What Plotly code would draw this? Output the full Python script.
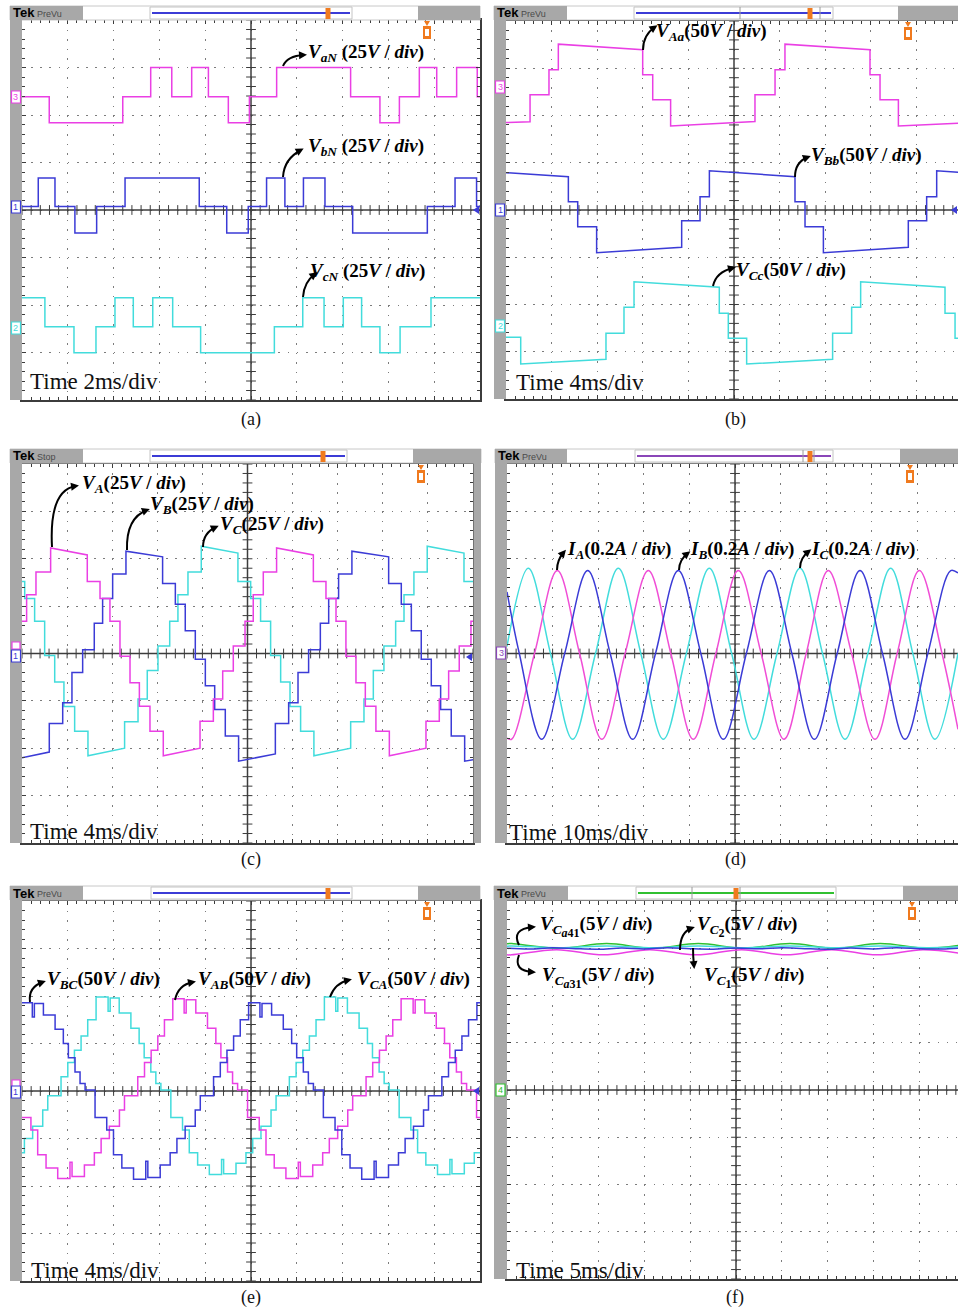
import plotly.graph_objects as go

W, H = 958, 1309
SERIF = "Liberation Serif"
MAGENTA = "#ea3fe4"
PINK = "#f04ed6"
BLUE = "#3b3bd6"
CYAN = "#42dcdc"
GREEN = "#30c030"
PURPLE = "#8a46b8"
ORANGE = "#f07a1e"
BEZEL = "#a8a8a8"
DOT = "#7c7c7c"
FRAME = "#3c3c3c"

# ---------------- (a) phase-to-neutral voltages, 2 ms/div, 25 V/div
A_T_VAN = [0, 1.19, 4.40, 5.62, 6.54, 7.41, 8.14, 9.01, 9.93, 11.12, 14.35, 15.63, 16.48, 17.35, 18.11, 18.98, 19.88, 20]
A_VAN = [0, -13.7, 0, 15.4, 0, 15.4, 0, -13.7, 0, 15.4, 0, -13.7, 0, 15.4, 0, 15.4, 0]
A_T_VBN = [0, 0.71, 1.44, 2.31, 3.26, 4.50, 7.74, 8.94, 9.88, 10.68, 11.48, 12.29, 13.23, 14.44, 17.70, 18.91, 19.85, 20]
A_VBN = [0, 15.0, 0, -13.9, 0, 15.0, 0, -13.9, 0, 15.0, 0, 15.0, 0, -13.9, 0, 15.0, 0]
A_T_VCN = [0, 1.00, 2.27, 3.23, 4.06, 4.86, 5.71, 6.58, 7.80, 11.02, 12.26, 13.19, 14.03, 14.83, 15.63, 16.51, 17.86, 20]
A_VCN = [15.3, 0, -13.7, 0, 15.3, 0, 15.3, 0, -13.7, 0, 15.3, 0, 15.3, 0, -13.7, 0, 15.3]

# ---------------- (b) module voltages, 4 ms/div, 50 V/div  (tuples = start/end of a drooping plateau)
B_T_VAA = [0, 2.11, 3.77, 4.59, 11.99, 12.87, 14.44, 21.84, 23.60, 24.47, 31.93, 32.81, 34.42, 40]
B_VAA = [(-37.5, -36.6), -8.1, 18.3, (45.5, 39.5), 13.0, -13.4, (-41.0, -36.4), -8.1, 18.3, (45.5, 39.5), 13.0, -13.4, (-41.0, -38.0)]
B_T_VBB = [0, 5.47, 6.29, 7.95, 15.41, 17.02, 17.84, 25.35, 26.23, 27.84, 35.29, 36.90, 37.78, 40]
B_VBB = [(39.5, 35.2), 8.8, -17.7, (-45.2, -39.5), -11.3, 14.1, (41.6, 35.2), 8.8, -17.7, (-45.2, -39.5), -11.3, 14.1, (41.6, 39.5)]
B_T_VCC = [0, 1.29, 8.77, 10.35, 11.23, 18.71, 19.50, 21.11, 28.65, 30.32, 31.11, 38.51, 39.39, 40]
B_VCC = [-12.0, (-40.2, -35.2), -7.7, 19.8, (46.9, 41.0), 13.4, -13.0, (-40.2, -35.2), -7.7, 19.8, (46.9, 41.0), 13.4, -13.0]

# ---------------- (c) output phase voltages, 4 ms/div, 25 V/div
C_T_VA = [0, 0.41, 1.24, 2.54, 5.79, 6.92, 7.80, 8.69, 9.58, 10.41, 11.35, 12.53, 15.79, 16.97, 17.80, 18.74,
          19.78, 20.51, 21.40, 22.58, 25.84, 26.96, 27.85, 28.73, 29.62, 30.45, 31.39, 32.58, 35.83, 37.01, 37.84,
          38.78, 39.82, 40.1]
C_VA = [17, 31, 43, (55.7, 52), 38, 29, 17, -1.4, -15.5, -27.8, -41, (-54, -50), -35.7, -24, -9.3, 3.9,
        17, 31, 43, (55.7, 52), 38, 29, 17, -1.4, -15.5, -27.8, -41, (-54, -50), -35.7, -24, -9.3, 3.9, 17]
C_T_VB = [0, 2.42, 3.61, 4.43, 5.38, 6.41, 7.15, 8.04, 9.22, 12.47, 13.60, 14.48, 15.37, 16.26, 17.09, 18.03,
          19.21, 22.47, 23.65, 24.48, 25.42, 26.46, 27.20, 28.08, 29.26, 32.52, 33.64, 34.53, 35.41, 36.30, 37.13,
          38.07, 39.26, 40.1]
C_VB = [(-55, -52), -37, -26, -10, 2, 16, 29, 42, (54, 51), 37, 26, 12, -3, -17, -29.5, -43.6, (-56.8, -53),
        -37, -26, -10, 2, 16, 29, 42, (54, 51), 37, 26, 12, -3, -17, -29.5, -43.6, (-56.8, -56)]
C_T_VC = [0, 0.24, 1.12, 2.01, 2.90, 3.72, 4.67, 5.85, 9.10, 10.29, 11.11, 12.06, 13.10, 13.83, 14.72, 15.90,
          19.15, 20.28, 21.16, 22.05, 22.94, 23.77, 24.71, 25.89, 29.15, 30.33, 31.16, 32.10, 33.14, 33.88, 34.76,
          35.94, 39.20, 40.1]
C_VC = [38, 29, 17, -1, -15, -28, -41, (-54, -50), -36, -24, -9, 4, 17, 31, 43, (56.6, 53), 38, 29, 17, -1,
        -15, -28, -41, (-54, -50), -36, -24, -9, 4, 17, 31, 43, (56.6, 53), 38]

# ---------------- (d) load currents, 10 ms/div, 0.2 A/div (peaks, troughs and zero crossings)
D_T_IA = [0, 1.02, 6.03, 11.04, 15.92, 20.80, 25.90, 30.99, 35.93, 40.86, 45.80, 50.73, 55.74, 60.75, 65.61,
          70.46, 75.58, 80.70, 85.56, 90.42, 95.40, 98.9]
D_IA = [-0.357, -0.362, 0, 0.350, 0, -0.362, 0, 0.350, 0, -0.362, 0, 0.350, 0, -0.362, 0, 0.350, 0, -0.362, 0,
        0.350, 0, -0.32]
D_T_IB = [0, 2.70, 7.60, 12.65, 17.70, 22.63, 27.56, 32.57, 37.57, 42.51, 47.44, 52.49, 57.53, 62.47, 67.40,
          72.41, 77.41, 82.35, 87.28, 92.29, 97.30, 98.9]
D_IB = [0.26, 0, -0.362, 0, 0.350, 0, -0.362, 0, 0.350, 0, -0.362, 0, 0.350, 0, -0.362, 0, 0.350, 0, -0.362, 0,
        0.350, 0.34]
D_T_IC = [0, 4.67, 9.54, 14.40, 19.41, 24.41, 29.35, 34.28, 39.33, 44.37, 49.27, 54.17, 59.21, 64.25, 69.19,
          74.12, 79.13, 84.14, 89.00, 93.86, 98.9]
D_IC = [0.03, 0.360, 0, -0.362, 0, 0.360, 0, -0.362, 0, 0.360, 0, -0.362, 0, 0.360, 0, -0.362, 0, 0.360, 0,
        -0.362, 0.0]

# ---------------- (e) line voltages, 4 ms/div, 50 V/div
E_T_VBC = [0, 0.90, 1.08, 1.87, 2.89, 3.61, 4.05, 4.63, 5.07, 5.51, 6.38, 7.40, 7.99, 8.72, 9.74, 10.81, 10.99,
           12.07, 12.94, 13.53, 14.25, 15.13, 15.57, 16.73, 17.32, 17.90, 18.48, 19.06, 19.79, 20.78, 20.96, 21.80,
           22.82, 23.55, 23.99, 24.57, 25.01, 25.45, 26.32, 27.34, 27.93, 28.65, 29.67, 30.75, 30.93, 32.01, 32.88,
           33.46, 34.19, 35.07, 35.50, 36.67, 37.25, 37.84, 38.42, 39.00, 39.73, 40.1]
E_VBC = [93, 78, 92, 80, 65, 50, 35, 20, 8, 1, -28, -41, -67, -81, -93, -74, -91, -78, -65, -50, -37, -20, -5,
         15, 30, 43, 58, 75, 93,
         78, 92, 80, 65, 50, 35, 20, 8, 1, -28, -41, -67, -81, -93, -74, -91, -78, -65, -50, -37, -20, -5,
         15, 30, 43, 58, 75, 93]
E_T_VAB = [0, 0.78, 1.37, 2.10, 3.12, 4.19, 4.37, 5.45, 6.32, 6.91, 7.63, 8.51, 8.95, 10.11, 10.70, 11.28, 11.86,
           12.44, 13.17, 14.16, 14.34, 15.18, 16.20, 16.93, 17.37, 17.95, 18.39, 18.83, 19.70, 20.72, 21.31, 22.03,
           23.05, 24.13, 24.31, 25.39, 26.26, 26.84, 27.57, 28.45, 28.88, 30.05, 30.63, 31.22, 31.80, 32.38, 33.11,
           34.16, 34.34, 35.18, 36.18, 36.90, 37.36, 37.94, 38.38, 38.83, 39.70, 40.1]
E_VAB = [-28, -41, -67, -81, -92, -75, -90, -78, -65, -50, -37, -20, -5, 15, 30, 43, 58, 75, 97, 82, 96, 82, 66,
         50, 35, 20, 8, 1,
         -28, -41, -67, -81, -92, -75, -90, -78, -65, -50, -37, -20, -5, 15, 30, 43, 58, 75, 97, 82, 96, 82, 66,
         50, 35, 20, 8, 1, -28]
E_T_VCA = [0, 0.21, 0.93, 1.81, 2.25, 3.41, 4.00, 4.58, 5.16, 5.74, 6.47, 7.52, 7.70, 8.49, 9.51, 10.23, 10.67,
           11.25, 11.69, 12.13, 13.00, 14.02, 14.61, 15.34, 16.36, 17.43, 17.61, 18.69, 19.56, 20.15, 20.87, 21.75,
           22.19, 23.35, 23.94, 24.52, 25.10, 25.68, 26.41, 27.40, 27.58, 28.42, 29.44, 30.17, 30.61, 31.19, 31.63,
           32.07, 32.94, 33.96, 34.55, 35.27, 36.29, 37.37, 37.55, 38.63, 39.50, 40.1]
E_VCA = [-65, -50, -37, -20, -5, 15, 30, 43, 58, 75, 99, 84, 98, 82, 66, 50, 35, 20, 8, 1, -28, -41, -65, -78,
         -88, -72, -87, -76, -65,
         -50, -37, -20, -5, 15, 30, 43, 58, 75, 99, 84, 98, 82, 66, 50, 35, 20, 8, 1, -28, -41, -65, -78,
         -88, -72, -87, -76, -65]

# ---------------- (f) capacitor voltages, 5 ms/div, 5 V/div (ripple extremes)
F_T_CA41 = [0, 0.51, 5.71, 10.88, 15.91, 20.89, 25.88, 30.90, 35.82, 40.73, 45.83, 49.3]
F_CA41 = [15.48, 15.50, 15.00, 15.50, 15.00, 15.50, 15.00, 15.50, 15.00, 15.50, 15.00, 15.30]
F_T_CA31 = [0, 0.50, 5.42, 10.52, 15.61, 20.70, 25.62, 30.50, 35.45, 40.40, 45.40, 49.3]
F_CA31 = [14.32, 14.30, 14.85, 14.30, 14.85, 14.30, 14.85, 14.30, 14.85, 14.30, 14.85, 14.50]
F_T_C2 = [0, 0.51, 5.71, 10.88, 15.91, 20.89, 25.88, 30.90, 35.82, 40.73, 45.83, 49.3]
F_C2 = [15.22, 15.25, 15.05, 15.25, 15.05, 15.25, 15.05, 15.25, 15.05, 15.25, 15.05, 15.15]
F_T_C1 = [0, 2.5, 5.0, 7.5, 10.0, 12.5, 15.0, 17.5, 20.0, 22.5, 25.0, 27.5, 30.0, 32.5, 35.0, 37.5, 40.0, 42.5,
          45.0, 47.5, 49.3]
F_C1 = [15.0, 14.92, 15.05, 14.95, 14.9, 15.02, 14.93, 15.06, 14.95, 14.9, 15.03, 14.94, 15.05, 14.96, 14.9,
        15.02, 14.93, 15.06, 14.96, 14.92, 15.0]

# ---------------- screen geometry of the six captures (pixels)
GEOM = {
    "a": dict(left=22, right=480, top=20, bottom=400, divw=45.8, tdiv=2, cut=False),
    "b": dict(left=506, right=958, top=21, bottom=399, divw=45.6, tdiv=4, cut=True),
    "c": dict(left=22, right=473, top=464, bottom=843, divw=45.1, tdiv=4, cut=False),
    "d": dict(left=507, right=958, top=464, bottom=843, divw=45.6, tdiv=10, cut=True),
    "e": dict(left=22, right=480, top=901, bottom=1281, divw=45.8, tdiv=4, cut=False),
    "f": dict(left=507, right=958, top=901, bottom=1279, divw=45.8, tdiv=5, cut=True),
}
HEAD = {
    "a": dict(y=(6, 20), gl=(10, 83), box=(150, 352), gr=(418, 480), lc=BLUE, trig=328, mode="PreVu",
              bez=(10, 22), marks=()),
    "b": dict(y=(6, 20), gl=(494, 567), box=(634, 833), gr=(898, 958), lc=BLUE, trig=810, mode="PreVu",
              bez=(494, 506), marks=(740, 820)),
    "c": dict(y=(449, 463), gl=(10, 83), box=(150, 347), gr=(413, 481), lc=BLUE, trig=323, mode="Stop",
              bez=(10, 22), marks=()),
    "d": dict(y=(449, 463), gl=(495, 567), box=(635, 833), gr=(900, 958), lc=PURPLE, trig=810, mode="PreVu",
              bez=(495, 507), marks=(803, 814)),
    "e": dict(y=(886, 900), gl=(10, 83), box=(151, 352), gr=(418, 480), lc=BLUE, trig=328, mode="PreVu",
              bez=(10, 22), marks=()),
    "f": dict(y=(886, 900), gl=(494, 568), box=(636, 836), gr=(903, 958), lc=GREEN, trig=736, mode="PreVu",
              bez=(494, 507), marks=(692, 740)),
}
LEVEL_MARK = {"a": 427, "b": 908, "c": 421, "d": 910, "e": 427, "f": 912}
# ground reference tags on the bezel: (y, number or None, colour)
GROUND_TAGS = {
    "a": [(97, "3", MAGENTA), (207, "1", BLUE), (328, "2", CYAN)],
    "b": [(87, "3", MAGENTA), (210, "1", BLUE), (326, "2", CYAN)],
    "c": [(646, None, MAGENTA), (656, "1", BLUE)],
    "d": [(653, "3", PURPLE)],
    "e": [(1084, None, MAGENTA), (1092, "1", BLUE)],
    "f": [(1090, "4", GREEN)],
}
# small blue pointers at the right end of the centre line
RIGHT_POINTERS = [(480, 210), (958, 210), (473, 657), (480, 1091)]
TIME_TEXT = {"a": ("Time 2ms/div", 28, 381), "b": ("Time 4ms/div", 514, 382), "c": ("Time 4ms/div", 28, 831),
             "d": ("Time 10ms/div", 507, 832), "e": ("Time 4ms/div", 29, 1270), "f": ("Time 5ms/div", 514, 1270)}
CAPTION = {"a": (251, 419), "b": (735, 419), "c": (251, 859), "d": (735, 859), "e": (251, 1297), "f": (735, 1297)}


def steps(edges, levels):
    xs, ys = [], []
    for k, lv in enumerate(levels):
        a, b = lv if isinstance(lv, tuple) else (lv, lv)
        xs += [edges[k], edges[k + 1]]
        ys += [a, b]
    return xs, ys


# waveforms: (panel, x, y, colour, V/div, ground offset in div, line shape)
WAVES = [
    ("a", *steps(A_T_VAN, A_VAN), MAGENTA, 25, 2.385, "linear"),
    ("a", *steps(A_T_VBN, A_VBN), BLUE, 25, 0.074, "linear"),
    ("a", *steps(A_T_VCN, A_VCN), CYAN, 25, -2.457, "linear"),
    ("b", *steps(B_T_VAA, B_VAA), MAGENTA, 50, 2.60, "linear"),
    ("b", *steps(B_T_VBB, B_VBB), BLUE, 50, 0.0, "linear"),
    ("b", *steps(B_T_VCC, B_VCC), CYAN, 50, -2.455, "linear"),
    ("c", *steps(C_T_VC, C_VC), CYAN, 25, 0.0, "linear"),
    ("c", *steps(C_T_VB, C_VB), BLUE, 25, 0.0, "linear"),
    ("c", *steps(C_T_VA, C_VA), MAGENTA, 25, 0.0, "linear"),
    ("d", D_T_IC, D_IC, CYAN, 0.2, 0.0, "spline"),
    ("d", D_T_IA, D_IA, PINK, 0.2, 0.0, "spline"),
    ("d", D_T_IB, D_IB, BLUE, 0.2, 0.0, "spline"),
    ("e", *steps(E_T_VCA, E_VCA), CYAN, 50, 0.0, "linear"),
    ("e", *steps(E_T_VAB, E_VAB), MAGENTA, 50, 0.0, "linear"),
    ("e", *steps(E_T_VBC, E_VBC), BLUE, 50, 0.0, "linear"),
    ("f", F_T_CA31, F_CA31, MAGENTA, 5, 0.0, "spline"),
    ("f", F_T_CA41, F_CA41, GREEN, 5, 0.0, "spline"),
    ("f", F_T_C2, F_C2, CYAN, 5, 0.0, "spline"),
    ("f", F_T_C1, F_C1, BLUE, 5, 0.0, "spline"),
]


def lab(sym, sub, scale, gap=""):
    return f"<b><i>{sym}</i><sub>{sub}</sub>{gap}({scale} / <i>div</i>)</b>"


def cap_sub(idx):
    return f"<i>C</i><sub><span style='font-size:12px'>{idx}</span></sub>"


V25, V50, V5 = "25<i>V</i>", "50<i>V</i>", "5<i>V</i>"
# label text, left x, middle y, curved pointer (tail, control, head)
LABELS = [
    (lab("V", "<i>aN</i>", V25, " "), 306, 53, ((283, 66), (287, 56), (304, 55))),
    (lab("V", "<i>bN</i>", V25, " "), 306, 147, ((283, 177), (284, 159), (301, 150))),
    (lab("V", "<i>cN</i>", V25, " "), 308, 272, ((303, 297), (304, 282), (315, 274))),
    (lab("V", "<i>Aa</i>", V50), 654, 32, ((643, 50), (643, 35), (655, 27))),
    (lab("V", "<i>Bb</i>", V50), 809, 156, ((795, 177), (795, 162), (808, 157))),
    (lab("V", "<i>Cc</i>", V50), 734, 271, ((713, 286), (716, 272), (733, 268))),
    (lab("V", "<i>A</i>", V25), 80, 484, ((52, 547), (49, 490), (76, 486))),
    (lab("V", "<i>B</i>", V25), 148, 505, ((127, 550), (126, 518), (147, 510))),
    (lab("V", "<i>C</i>", V25), 218, 525, ((203, 547), (203, 533), (216, 527))),
    (lab("I", "<i>A</i>", "0.2<i>A</i>"), 565, 550, ((557, 570), (557, 560), (564, 552))),
    (lab("I", "<i>B</i>", "0.2<i>A</i>"), 688, 550, ((679, 570), (679, 560), (688, 553))),
    (lab("I", "<i>C</i>", "0.2<i>A</i>"), 809, 550, ((800, 568), (800, 558), (809, 551))),
    (lab("V", "<i>BC</i>", V50), 45, 980, ((30, 1002), (28, 987), (43, 982))),
    (lab("V", "<i>AB</i>", V50), 196, 980, ((175, 1000), (178, 985), (193, 982))),
    (lab("V", "<i>CA</i>", V50), 355, 980, ((330, 997), (335, 983), (349, 980))),
    (lab("V", cap_sub("<i>a</i>41"), V5), 538, 926, ((519, 945), (511, 929), (533, 927))),
    (lab("V", cap_sub("<i>a</i>31"), V5), 540, 977, ((519, 955), (513, 971), (533, 972))),
    (lab("V", cap_sub("2"), V5), 695, 926, ((680, 950), (680, 932), (692, 928))),
    (lab("V", cap_sub("1"), V5), 702, 977, ((693, 948), (693, 956), (694, 966))),
]


def px(x):
    return x / W


def py(y):
    return 1 - y / H


def axn(kind, n):
    return kind if n == 1 else f"{kind}{n}"


def axk(kind, n):
    return f"{kind}axis" if n == 1 else f"{kind}axis{n}"


def prect(x0, x1, y0, y1, fill, line_color=None, lw=0):
    return dict(type="rect", xref="paper", yref="paper", x0=px(x0), x1=px(x1), y0=py(y1), y1=py(y0),
                line=dict(color=line_color or fill, width=lw), fillcolor=fill)


def ppath(pts, fill):
    d = "M" + " L".join(f"{px(x)},{py(y)}" for x, y in pts) + " Z"
    return dict(type="path", xref="paper", yref="paper", path=d, line=dict(width=0), fillcolor=fill)


fig = go.Figure()
layout = dict(width=W, height=H, margin=dict(l=0, r=0, t=0, b=0), paper_bgcolor="white",
              plot_bgcolor="white", showlegend=False, font=dict(family=SERIF, color="black"))
shapes, annos = [], []
PANEL_NO = {k: i + 1 for i, k in enumerate(GEOM)}


def note(text, x, y, size, color="black", family=SERIF, xanchor="center"):
    annos.append(dict(text=text, x=px(x), y=py(y), xref="paper", yref="paper", xanchor=xanchor,
                      yanchor="middle", showarrow=False, font=dict(family=family, size=size, color=color)))


# graticule: axes in ms (x) and divisions (y)
for key, g in GEOM.items():
    n = PANEL_NO[key]
    ndiv = (g["right"] - g["left"]) / g["divw"]
    divh = (g["bottom"] - g["top"]) / 8
    tdiv = g["tdiv"]
    layout[axk("x", n)] = dict(
        domain=[px(g["left"]), px(g["right"])], range=[0, ndiv * tdiv], anchor=axn("y", n),
        showgrid=True, gridcolor=DOT, gridwidth=1, griddash=f"1.6px,{divh / 5 - 1.6:.2f}px",
        tick0=0, dtick=tdiv, ticks="inside", ticklen=4, tickcolor=FRAME, showticklabels=False,
        showline=True, linecolor=FRAME, linewidth=1.5, mirror="ticks", zeroline=False, fixedrange=True,
        minor=dict(dtick=tdiv / 5, ticks="inside", ticklen=3, tickcolor=FRAME, showgrid=False))
    layout[axk("y", n)] = dict(
        domain=[py(g["bottom"]), py(g["top"])], range=[-4, 4], anchor=axn("x", n),
        showgrid=True, gridcolor=DOT, gridwidth=1, griddash=f"1.6px,{g['divw'] / 5 - 1.6:.2f}px",
        tick0=0, dtick=1, ticks="inside", ticklen=4, tickcolor=FRAME, showticklabels=False,
        showline=True, linecolor=FRAME, linewidth=1.5, mirror=False if g["cut"] else "ticks",
        zeroline=False, fixedrange=True,
        minor=dict(dtick=0.2, ticks="inside", ticklen=3, tickcolor=FRAME, showgrid=False))
    # centre cross-hair with its minor tick marks
    xc = 5 * tdiv
    shapes.append(dict(type="line", xref=axn("x", n), yref=axn("y", n), x0=0, x1=ndiv * tdiv, y0=0, y1=0,
                       line=dict(color=FRAME, width=1.5), layer="between"))
    shapes.append(dict(type="line", xref=axn("x", n), yref=axn("y", n), x0=xc, x1=xc, y0=-4, y1=4,
                       line=dict(color=FRAME, width=1.5), layer="between"))
    nx = int(ndiv * 5) + 1
    fig.add_trace(go.Scatter(x=[k * tdiv / 5 for k in range(nx)], y=[0] * nx, xaxis=axn("x", n),
                             yaxis=axn("y", n), mode="markers", hoverinfo="skip",
                             marker=dict(symbol="line-ns", size=7, line=dict(width=1, color=FRAME))))
    fig.add_trace(go.Scatter(x=[xc] * 41, y=[k / 5 - 4 for k in range(41)], xaxis=axn("x", n),
                             yaxis=axn("y", n), mode="markers", hoverinfo="skip",
                             marker=dict(symbol="line-ew", size=7, line=dict(width=1, color=FRAME))))

# one hidden y axis per probe channel, scaled in volts / amps
next_axis = len(GEOM) + 1
for key, xs, ys, color, vdiv, off, shape in WAVES:
    n = PANEL_NO[key]
    m = next_axis
    next_axis += 1
    layout[axk("y", m)] = dict(overlaying=axn("y", n), anchor=axn("x", n), visible=False, fixedrange=True,
                               range=[(-4 - off) * vdiv, (4 - off) * vdiv])
    line = dict(color=color, width=1.5, shape=shape)
    if shape == "spline":
        line["smoothing"] = 1.0
    fig.add_trace(go.Scatter(x=xs, y=ys, xaxis=axn("x", n), yaxis=axn("y", m), mode="lines",
                             line=line, hoverinfo="skip"))

# instrument chrome: status bar, bezel, markers
for key, h in HEAD.items():
    g = GEOM[key]
    y0, y1 = h["y"]
    shapes.append(prect(h["gl"][0], h["gr"][1], y0, y1, "white", "#c8c8c8", 1))
    for a, b in (h["gl"], h["gr"]):
        shapes.append(prect(a, b, y0, y1, BEZEL))
    shapes.append(prect(h["box"][0], h["box"][1], y0 + 1, y1 - 1, "white", "#c4c4c4", 1))
    ym = (y0 + y1) / 2
    shapes.append(dict(type="line", xref="paper", yref="paper", x0=px(h["box"][0] + 2), x1=px(h["box"][1] - 2),
                       y0=py(ym), y1=py(ym), line=dict(color=h["lc"], width=2)))
    for mx in h["marks"]:
        shapes.append(dict(type="line", xref="paper", yref="paper", x0=px(mx), x1=px(mx),
                           y0=py(y1 - 1), y1=py(y0 + 1), line=dict(color="#9a9a9a", width=1)))
    shapes.append(prect(h["trig"] - 2.5, h["trig"] + 2.5, y0 + 2, y1 - 1, ORANGE))
    shapes.append(prect(h["bez"][0], h["bez"][1], y1, g["bottom"], BEZEL))
    if key == "c":
        shapes.append(prect(473.5, 481, y1, g["bottom"], BEZEL))
    note("<b>Tek</b>", h["gl"][0] + 1, ym, 13, family="Liberation Sans", xanchor="left")
    note(h["mode"], h["gl"][0] + 25, ym + 1, 9, color="#4a4a4a", family="Liberation Sans", xanchor="left")
    # trigger level tab
    lx = LEVEL_MARK[key]
    shapes.append(prect(lx - 4, lx + 4, g["top"] + 6, g["top"] + 19, ORANGE))
    shapes.append(ppath([(lx - 3, g["top"] + 1), (lx + 3, g["top"] + 1), (lx, g["top"] + 6)], ORANGE))
    shapes.append(prect(lx - 2, lx + 2, g["top"] + 9, g["top"] + 16, "white"))
    # ground reference tags on the bezel
    bx = (h["bez"][0] + h["bez"][1]) / 2
    for gy, num, col in GROUND_TAGS[key]:
        if num is None:
            shapes.append(prect(bx - 4, bx + 4, gy - 4, gy + 3, "white", col, 1.2))
            continue
        shapes.append(prect(bx - 4.5, bx + 4.5, gy - 6, gy + 6, "white", col, 1.2))
        note(num, bx, gy, 9, color=col, family="Liberation Sans")
    t, tx, ty = TIME_TEXT[key]
    note(t, tx, ty, 23, color="#111111", xanchor="left")
    cx, cy = CAPTION[key]
    note(f"({key})", cx, cy, 18, color="#111111")

for rx, ry in RIGHT_POINTERS:
    shapes.append(ppath([(rx - 1, ry - 4), (rx - 1, ry + 4), (rx - 7, ry)], BLUE))

# signal names with curved pointers
for text, lx, ly, (p0, c, p1) in LABELS:
    note(text, lx, ly, 19, xanchor="left")
    shapes.append(dict(type="path", xref="paper", yref="paper", line=dict(color="black", width=2),
                       path=f"M{px(p0[0])},{py(p0[1])} Q{px(c[0])},{py(c[1])} {px(p1[0])},{py(p1[1])}"))
    dx, dy = p1[0] - c[0], p1[1] - c[1]
    d = max((dx * dx + dy * dy) ** 0.5, 1e-6)
    ux, uy = dx / d, dy / d
    tip = (p1[0] + ux * 3, p1[1] + uy * 3)
    base = (p1[0] - ux * 5, p1[1] - uy * 5)
    shapes.append(ppath([tip, (base[0] - uy * 4, base[1] + ux * 4), (base[0] + uy * 4, base[1] - ux * 4)], "black"))

layout["shapes"] = shapes
layout["annotations"] = annos
fig.update_layout(**layout)
fig.write_html("out.html")
